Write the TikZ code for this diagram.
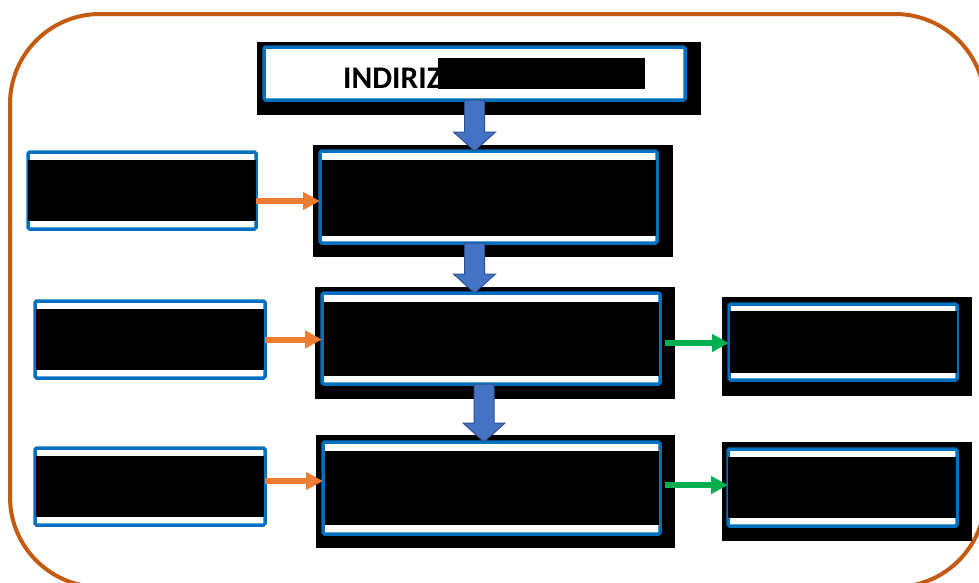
\documentclass[tikz,border=0pt]{standalone}
\usepackage{fontspec}
\setmainfont{Carlito}
\usetikzlibrary{arrows.meta,calc}
\definecolor{framec}{HTML}{C55A11}
\definecolor{boxblue}{HTML}{0070C0}
\definecolor{arrblue}{HTML}{4472C4}
\definecolor{arredge}{HTML}{2F528F}
\definecolor{oarr}{HTML}{ED7D31}
\definecolor{garr}{HTML}{00B050}
\newcommand\blkdown[2]{%
  \draw[fill=arrblue,draw=arredge,line width=1pt,line join=miter]
    ($(#1)+(-10,0)$) -- ($(#2)+(-10,-19)$) -- ($(#2)+(-21,-19)$) -- (#2)
    -- ($(#2)+(21,-19)$) -- ($(#2)+(10,-19)$) -- ($(#1)+(10,0)$) -- cycle;}
\begin{document}
\begin{tikzpicture}[x=1pt,y=-1pt,
  bluebox/.style={draw=boxblue,line width=3.5pt,fill=white,rounded corners=1.5pt,
    inner sep=0pt,outer sep=0pt},
  redact/.style={fill=black},
  oarrow/.style={draw=oarr,line width=6pt,-{Triangle[length=17pt,width=17pt]}},
  garrow/.style={draw=garr,line width=6pt,-{Triangle[length=17pt,width=17pt]}},
  frame/.style={draw=framec,line width=4pt,rounded corners=90pt}]
\useasboundingbox (0,0) rectangle (979,582);
\clip (0,0) rectangle (979,582);
% outer frame
\draw[frame] (10,14) rectangle (985,587);
% title
\fill[redact] (257,42) rectangle (701,115);
\node[bluebox,minimum width=421pt,minimum height=53pt] (t) at (474.5,73.5) {};
\node[anchor=base west,inner sep=0pt,font=\fontsize{31.5}{36}\selectfont\bfseries] (tt) at (343,88) {INDIRIZZ};
\fill[redact] (438,58) rectangle (645,89);
% center column
\fill[redact] (313,145) rectangle (673,257);
\node[bluebox,minimum width=337pt,minimum height=92pt] (c1) at (488.5,197) {};
\fill[redact] (322,160) rectangle (656,236);
\fill[redact] (315,287) rectangle (675,399);
\node[bluebox,minimum width=338pt,minimum height=91pt] (c2) at (491,338.5) {};
\fill[redact] (324,302) rectangle (659,376);
\fill[redact] (316,435) rectangle (675,548);
\node[bluebox,minimum width=337pt,minimum height=92pt] (c3) at (491.5,488) {};
\fill[redact] (325,451) rectangle (659,525);
% left column
\node[bluebox,minimum width=228pt,minimum height=77pt] (l1) at (142,190.5) {};
\fill[redact] (28,160) rectangle (256,221);
\node[bluebox,minimum width=230pt,minimum height=77pt] (l2) at (150,339.5) {};
\fill[redact] (36,309) rectangle (264,370);
\node[bluebox,minimum width=230pt,minimum height=77pt] (l3) at (150,486.5) {};
\fill[redact] (36,456) rectangle (264,517);
% right column
\fill[redact] (722,297) rectangle (972,396);
\node[bluebox,minimum width=228pt,minimum height=76pt] (r2) at (843,342) {};
\fill[redact] (730,311) rectangle (957,373);
\fill[redact] (722,442) rectangle (972,541);
\node[bluebox,minimum width=229pt,minimum height=77pt] (r3) at (842.5,487.5) {};
\fill[redact] (728,457) rectangle (956,518);
% blue block arrows
\coordinate (a1s) at (t.south);
\coordinate (a1e) at (t.south |- c1.north);
\blkdown{a1s}{a1e}
\coordinate (a2s) at (t.south |- c1.south);
\coordinate (a2e) at (t.south |- c2.north);
\blkdown{a2s}{a2e}
\coordinate (a3s) at ($(c2.south)+(-7,0)$);
\coordinate (a3e) at (a3s |- c3.north);
\blkdown{a3s}{a3e}
% orange arrows
\coordinate (o1s) at ($(l1.east)+(0,10.5)$);
\coordinate (o1e) at (o1s -| c1.west);
\draw[oarrow] (o1s) -- (o1e);
\draw[oarrow] (l2.east) -- (l2.east -| c2.west);
\coordinate (o3s) at ($(l3.east)+(0,-5.5)$);
\coordinate (o3e) at (o3s -| c3.west);
\draw[oarrow] (o3s) -- (o3e);
% green arrows
\coordinate (g1e) at ($(r2.west)+(0,1)$);
\coordinate (g1s) at ($(g1e -| c2.east)+(5,0)$);
\draw[garrow] (g1s) -- (g1e);
\coordinate (g2e) at ($(r3.west)+(0,-2.5)$);
\coordinate (g2s) at ($(g2e -| c3.east)+(5,0)$);
\draw[garrow] (g2s) -- (g2e);
\end{tikzpicture}
\end{document}
